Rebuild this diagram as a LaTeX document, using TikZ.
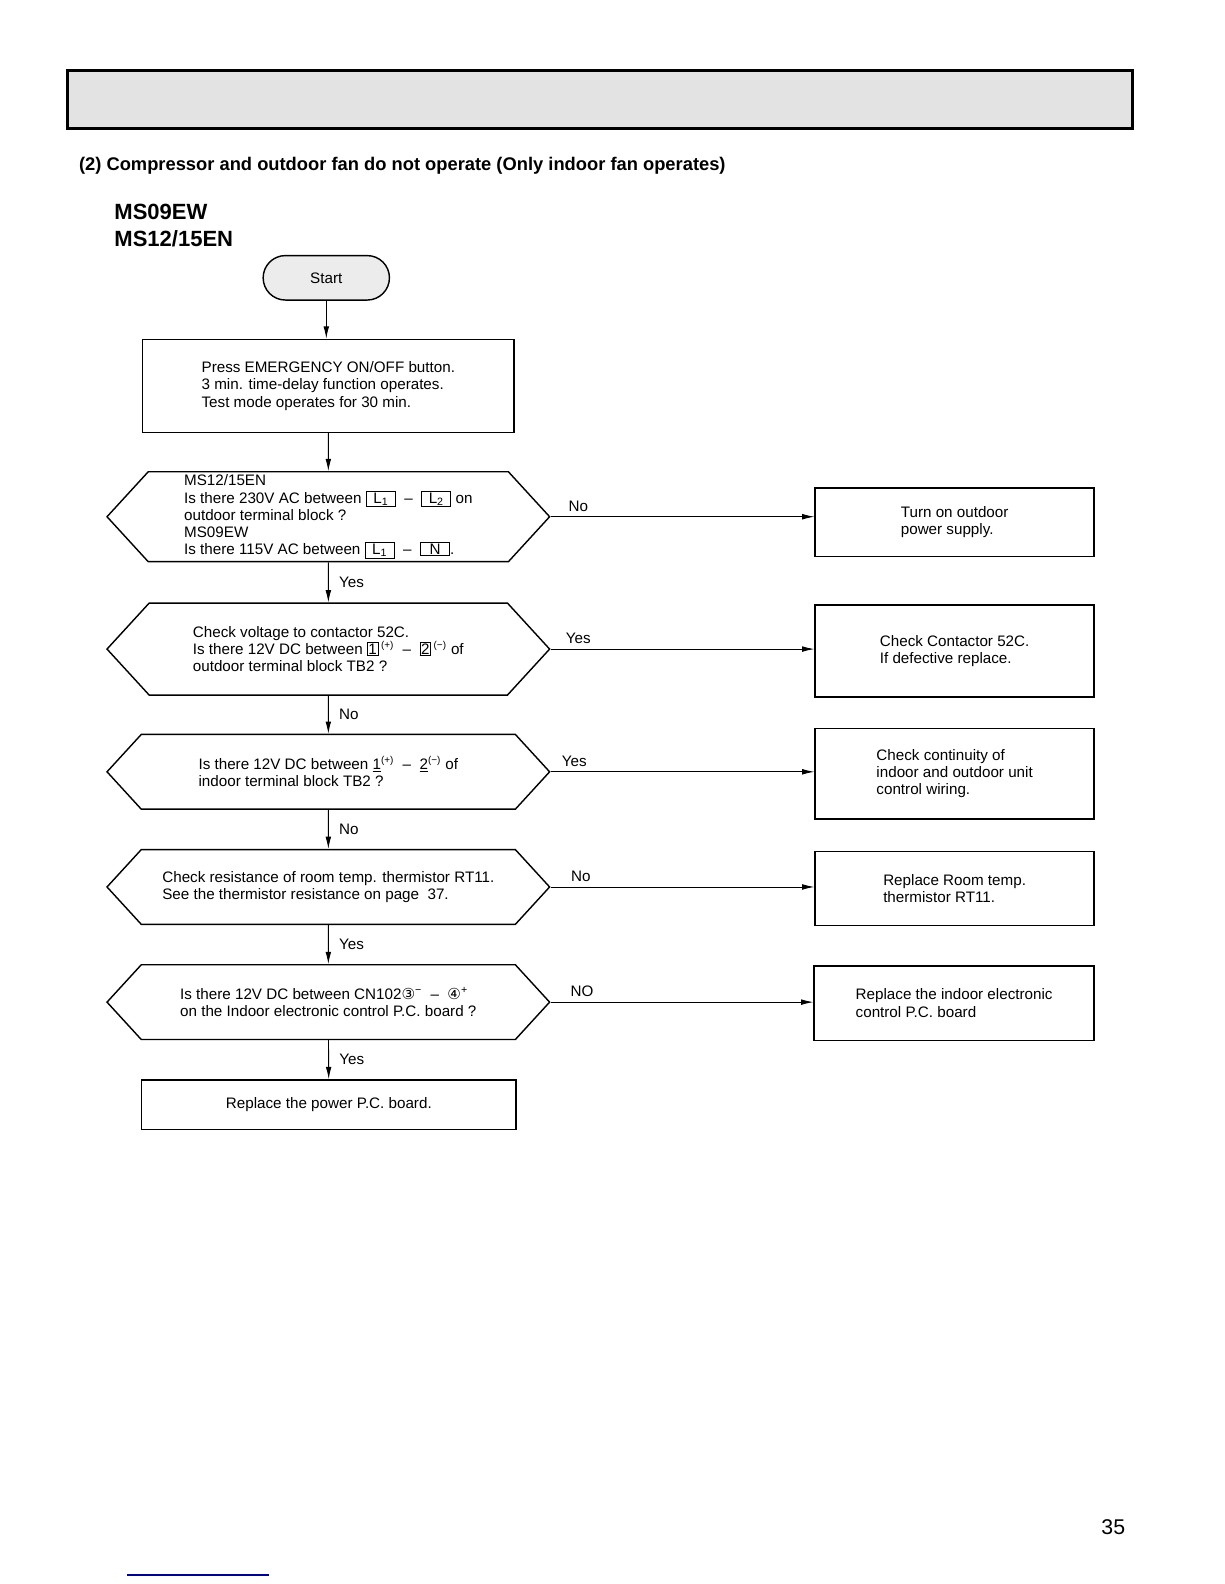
\documentclass[tikz,border=0pt]{standalone}
\usepackage{fontspec}
\setmainfont{Liberation Sans}
\newfontfamily\symfont{DejaVu Sans}
\usetikzlibrary{positioning,shapes.symbols,arrows.meta}

\newcommand{\termbox}[1]{{\setlength{\fboxsep}{0.6pt}\setlength{\fboxrule}{0.6pt}\fbox{\makebox[0.66cm]{#1}}}}
\newcommand{\pinbox}[1]{{\setlength{\fboxsep}{0.5pt}\setlength{\fboxrule}{0.6pt}\fbox{#1}}}
\newcommand{\pol}[1]{\textsuperscript{\scriptsize(#1)}}
\newcommand{\sdash}{\ \ --\ \ }

\begin{document}
\begin{tikzpicture}[x=0.025cm, y=-0.025cm, font=\fontsize{10.7}{12.1}\selectfont,
    box/.style={draw, line width=1.2pt, rectangle, align=left, inner sep=0pt},
    hexbox/.style={draw, line width=1pt, signal, signal to=west and east, signal from=nowhere,
        signal pointer angle=95, align=left, inner sep=0pt, minimum width=10.95cm},
    arr/.style={-{Latex[length=0.3cm, width=0.14cm]}, line width=0.6pt}]
    \useasboundingbox (0,0) rectangle (1212,1568);

    % header bar and headings
    \draw[line width=2pt, fill=gray!22] (67,70) rectangle (1121,127);
    \node (title) at (78,168.5) [anchor=base west, inner sep=0pt, font=\fontsize{12.9}{15}\selectfont\bfseries] {(2) Compressor and outdoor fan do not operate (Only indoor fan operates)};
    \node (model1) at (113,217) [anchor=base west, inner sep=0pt, font=\fontsize{15.5}{18}\selectfont\bfseries] {MS09EW};
    \node (model2) at (113,244) [anchor=base west, inner sep=0pt, font=\fontsize{15.5}{18}\selectfont\bfseries] {MS12/15EN};

    % main column
    \node (start) at (323,275) [draw, line width=1pt, rectangle, rounded corners=0.55cm, fill=gray!15, minimum width=3.125cm, minimum height=1.1cm] {Start};
    \node (press) at (325,382) [box, minimum width=9.2cm, minimum height=2.3cm] {Press EMERGENCY ON/OFF button.\\3 min. time-delay function operates.\\Test mode operates for 30 min.};
    \node (power) at (325,511.5) [hexbox, minimum height=2.225cm] {MS12/15EN\\Is there 230V AC between \termbox{L\textsubscript{1}}\sdash\termbox{L\textsubscript{2}} on\\outdoor terminal block ?\\MS09EW\\Is there 115V AC between \termbox{L\textsubscript{1}}\sdash\termbox{N}.};
    \node (outdc) at (325,642.5) [hexbox, minimum height=2.275cm] {Check voltage to contactor 52C.\\Is there 12V DC between \pinbox{1}\,\pol{+}\sdash\pinbox{2}\,\pol{−} of\\outdoor terminal block TB2 ?};
    \node (indc) at (325,764) [hexbox, minimum height=1.85cm] {Is there 12V DC between \underline{1}\pol{+}\sdash\underline{2}\pol{−} of\\indoor terminal block TB2 ?};
    \node (thermo) at (325,878) [hexbox, minimum height=1.85cm] {Check resistance of room temp. thermistor RT11.\\See the thermistor resistance on page\ \ 37.};
    \node (cn) at (325,992) [hexbox, minimum height=1.85cm] {Is there 12V DC between CN102{\symfont ③}\textsuperscript{−}\sdash{\symfont ④}\textsuperscript{+}\\on the Indoor electronic control P.C. board ?};
    \node (pwrpcb) at (325.5,1093.5) [box, minimum width=9.275cm, minimum height=1.225cm] {Replace the power P.C. board.};

    % right column
    \node (turnon) at (945,517) [box, minimum width=6.9cm, minimum height=1.7cm] {Turn on outdoor\\power supply.};
    \node (contactor) at (945,644.5) [box, minimum width=6.9cm, minimum height=2.275cm] {Check Contactor 52C.\\If defective replace.};
    \node (wiring) at (945,766) [box, minimum width=6.9cm, minimum height=2.25cm] {Check continuity of\\indoor and outdoor unit\\control wiring.};
    \node (rt) at (945,879.5) [box, minimum width=6.9cm, minimum height=1.825cm] {Replace Room temp.\\thermistor RT11.};
    \node (inpcb) at (944.5,993) [box, minimum width=6.925cm, minimum height=1.85cm] {Replace the indoor electronic\\control P.C. board};

    \draw [arr] (start) -- (start |- press.north);
    \draw [arr] (press) -- (power);
    \draw [arr] (power) -- (outdc) node[midway, right, xshift=4pt] {Yes};
    \draw [arr] (outdc) -- (indc) node[midway, right, xshift=4pt] {No};
    \draw [arr] (indc) -- (thermo) node[midway, right, xshift=4pt] {No};
    \draw [arr] (thermo) -- (cn) node[midway, right, xshift=4pt] {Yes};
    \draw [arr] (cn) -- (pwrpcb) node[midway, right, xshift=4pt] {Yes};

    \draw [arr] (power.east) -- (power.east -| turnon.west) node[pos=0.105, above] {No};
    \draw [arr] (outdc.east) -- (outdc.east -| contactor.west) node[pos=0.105, above] {Yes};
    \draw [arr] (indc.east) -- (indc.east -| wiring.west) node[pos=0.09, above] {Yes};
    \draw [arr] (thermo.east) -- (thermo.east -| rt.west) node[pos=0.115, above] {No};
    \draw [arr] (cn.east) -- (cn.east -| inpcb.west) node[pos=0.12, above] {NO};

    % page number and footer rule
    \node (page) at (1102,1512) [font=\fontsize{15}{18}\selectfont] {35};
    \draw [line width=1pt, blue!60!black] (126,1559) -- (266,1559);
\end{tikzpicture}
\end{document}
